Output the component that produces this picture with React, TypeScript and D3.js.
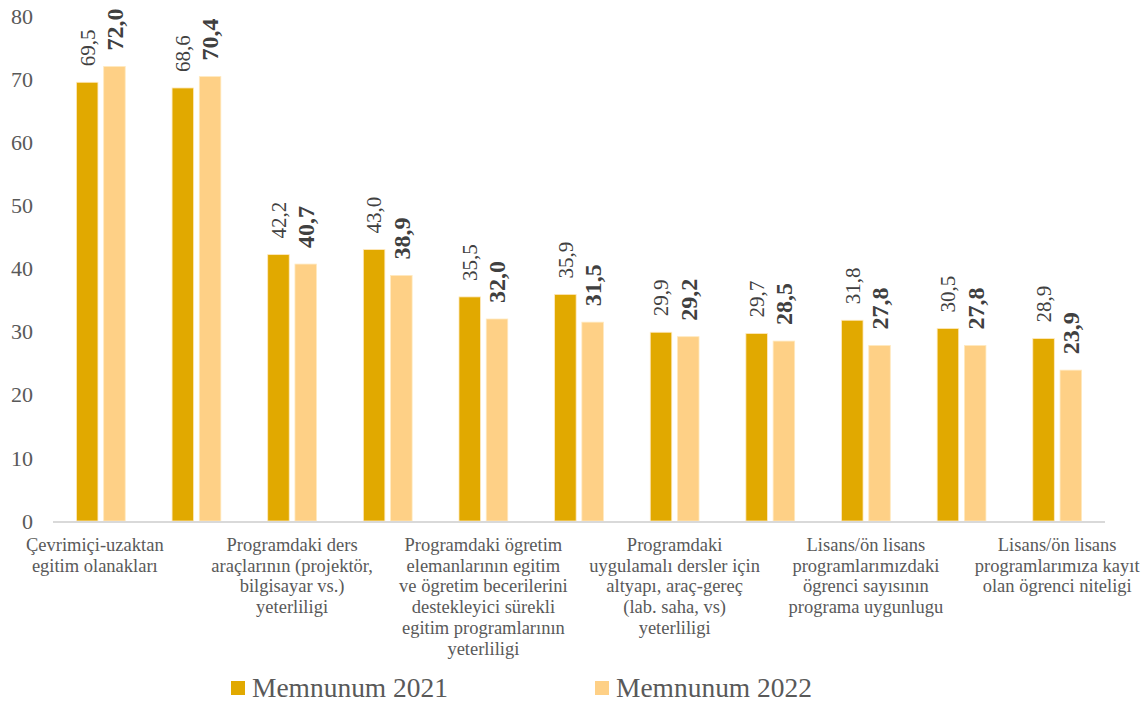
import React from 'react'
import * as d3 from 'd3'

// categories: only every other one carries a visible label in the chart
const categoryLabels: string[][] = [
  ['Çevrimiçi-uzaktan', 'egitim olanakları'],
  [],
  ['Programdaki ders', 'araçlarının (projektör,', 'bilgisayar vs.)', 'yeterliligi'],
  [],
  ['Programdaki ögretim', 'elemanlarının egitim', 've ögretim becerilerini', 'destekleyici sürekli', 'egitim programlarının', 'yeterliligi'],
  [],
  ['Programdaki', 'uygulamalı dersler için', 'altyapı, araç-gereç', '(lab. saha, vs)', 'yeterliligi'],
  [],
  ['Lisans/ön lisans', 'programlarımızdaki', 'ögrenci sayısının', 'programa uygunlugu'],
  [],
  ['Lisans/ön lisans', 'programlarımıza kayıt', 'olan ögrenci niteligi'],
]

const values2021 = [69.5, 68.6, 42.2, 43.0, 35.5, 35.9, 29.9, 29.7, 31.8, 30.5, 28.9]
const values2022 = [72.0, 70.4, 40.7, 38.9, 32.0, 31.5, 29.2, 28.5, 27.8, 27.8, 23.9]
const yTicks = [0, 10, 20, 30, 40, 50, 60, 70, 80]
const seriesNames = ['Memnunum 2021', 'Memnunum 2022']
const colors = ['#E1A900', '#FED086']

const W = 1141
const H = 704
const FONT = "'Liberation Serif', 'Times New Roman', serif"

export default function App() {
  const margin = { left: 53, right: 36, top: 16, bottom: 183 }
  const idx = d3.range(values2021.length)

  const x = d3.scaleBand<number>()
    .domain(idx)
    .range([margin.left, W - margin.right])

  const y = d3.scaleLinear()
    .domain([0, 80])
    .range([H - margin.bottom, margin.top])

  const bw = x.bandwidth() * 0.225
  const gap = x.bandwidth() * 0.06
  const fmt = (v: number) => v.toFixed(1).replace('.', ',')

  const series = [values2021, values2022]

  return (
    <svg width={W} height={H} style={{ position: 'absolute', left: 0, top: 0, background: '#fff', fontFamily: FONT }}>
      {/* y axis labels */}
      {yTicks.map(t => (
        <text key={t} x={33} y={y(t)} dy="0.35em" textAnchor="end" fontSize={22} fill="#595959">{t}</text>
      ))}

      {/* bars */}
      {series.map((vals, s) => (
        <g key={s}>
          {vals.map((v, i) => {
            const cx = x(i)! + x.bandwidth() / 2
            const bx = s === 0 ? cx - gap / 2 - bw : cx + gap / 2
            return (
              <rect key={i} x={bx} y={y(v)} width={bw} height={y(0) - y(v)}
                fill={colors[s]} stroke="#FFE9BF" strokeWidth={0.8} />
            )
          })}
        </g>
      ))}

      {/* value labels */}
      {series.map((vals, s) => (
        <g key={'l' + s}>
          {vals.map((v, i) => {
            const cx = x(i)! + x.bandwidth() / 2
            const lx = s === 0 ? cx - gap / 2 - bw / 2 : cx + gap / 2 + bw / 2
            const ly = y(v) - 16
            return (
              <text key={i} transform={`translate(${lx},${ly}) rotate(-90)`} dy="0.35em"
                fontSize={s === 0 ? 21 : 24} fontWeight={s === 0 ? 'normal' : 'bold'}
                fill="#404040">{fmt(v)}</text>
            )
          })}
        </g>
      ))}

      {/* x axis line */}
      <line x1={margin.left} x2={W - margin.right} y1={y(0) + 1} y2={y(0) + 1} stroke="#D9D9D9" strokeWidth={2} />

      {/* category labels */}
      {categoryLabels.map((lines, i) => {
        const cx = x(i)! + x.bandwidth() / 2 - (i === 0 ? 6 : 0)
        return (
          <text key={'c' + i} x={cx} y={551} textAnchor="middle" fontSize={18.5} fill="#595959">
            {lines.map((ln, k) => (
              <tspan key={k} x={cx} dy={k === 0 ? 0 : 20.7}>{ln}</tspan>
            ))}
          </text>
        )
      })}

      {/* legend */}
      {seriesNames.map((name, s) => {
        const lx = s === 0 ? 231 : 595
        return (
          <g key={name}>
            <rect x={lx} y={681} width={14} height={14} fill={colors[s]} />
            <text x={lx + 21} y={697} fontSize={27} fill="#595959" textLength={196} lengthAdjust="spacingAndGlyphs">{name}</text>
          </g>
        )
      })}
    </svg>
  )
}
